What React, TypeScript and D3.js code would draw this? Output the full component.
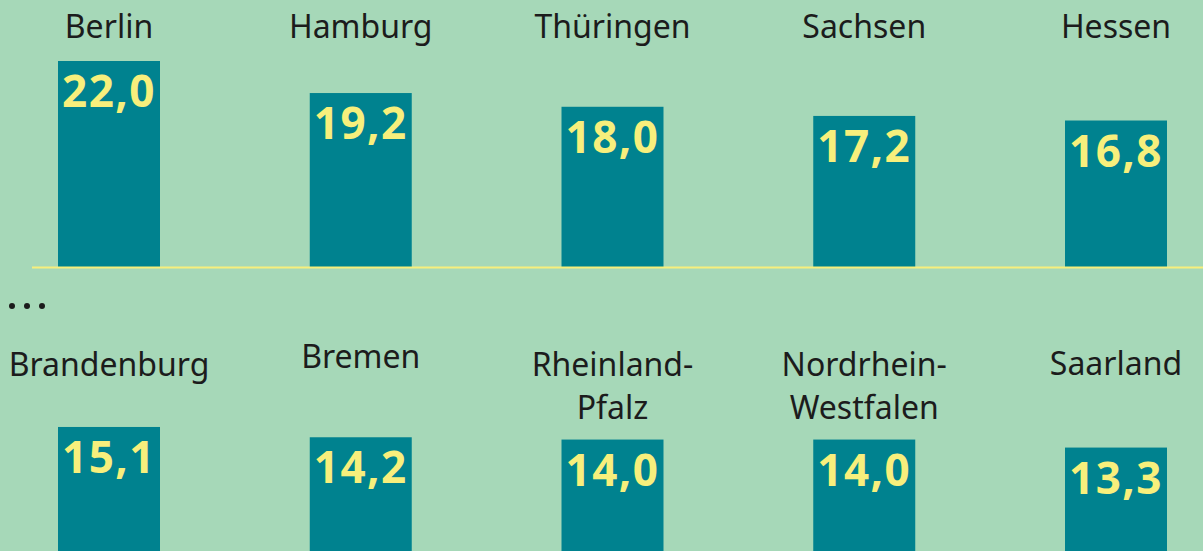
import React from "react";
import * as d3 from "d3";

const topStates = ["Berlin", "Hamburg", "Thüringen", "Sachsen", "Hessen"];
const topValues = [22.0, 19.2, 18.0, 17.2, 16.8];
const bottomStates = ["Brandenburg", "Bremen", "Rheinland-Pfalz", "Nordrhein-Westfalen", "Saarland"];
const bottomValues = [15.1, 14.2, 14.0, 14.0, 13.3];

const W = 1203;
const H = 551;
const BG = "#a6d8b8";
const BAR = "#00828f";
const YEL = "#f7ef7c";
const TXT = "#1c1c1c";
const FONT = "'Noto Sans', 'Open Sans', sans-serif";

const fmt = (v: number) => d3.format(".1f")(v).replace(".", ",");
const splitLabel = (s: string) => {
  const i = s.indexOf("-");
  return i >= 0 ? [s.slice(0, i + 1), s.slice(i + 1)] : [s];
};

export default function App() {
  const barW = 102;
  const x = d3.scalePoint<number>().domain([0, 1, 2, 3, 4]).range([109, 1116]);
  const yTop = d3.scaleLinear().domain([4, 22]).range([267, 61]);
  const yBot = d3.scaleLinear().domain([4, 22]).range([554, 348]);
  // label baseline offsets for bottom row (Bremen sits slightly higher in the original)
  const bottomLabelY = [376, 368, 376, 376, 375];

  return (
    <svg
      width={W}
      height={H}
      style={{ position: "absolute", left: 0, top: 0, display: "block" }}
      fontFamily={FONT}
    >
      <rect x={0} y={0} width={W} height={H} fill={BG} />

      {/* top row */}
      {topStates.map((s, i) => {
        const cx = x(i)!;
        const yt = yTop(topValues[i]);
        return (
          <g key={s}>
            <text x={cx} y={38} textAnchor="middle" fontSize={32} fill={TXT}>
              {s}
            </text>
            <rect x={cx - barW / 2} y={yt} width={barW} height={yTop(4) - yt} fill={BAR} />
            <text
              x={cx}
              y={yt + 46}
              textAnchor="middle"
              fontSize={44}
              fontWeight={700}
              fill={YEL}
              letterSpacing={1.5}
            >
              {fmt(topValues[i])}
            </text>
          </g>
        );
      })}
      <line x1={32} x2={W} y1={267.5} y2={267.5} stroke={YEL} strokeWidth={2} />

      {/* ellipsis */}
      {[0, 1, 2].map((k) => (
        <circle key={k} cx={12 + k * 15} cy={306} r={3} fill={TXT} />
      ))}

      {/* bottom row */}
      {bottomStates.map((s, i) => {
        const cx = x(i)!;
        const yt = yBot(bottomValues[i]);
        const lines = splitLabel(s);
        return (
          <g key={s}>
            {lines.map((l, j) => (
              <text key={j} x={cx} y={bottomLabelY[i] + j * 43} textAnchor="middle" fontSize={32} fill={TXT}>
                {l}
              </text>
            ))}
            <rect x={cx - barW / 2} y={yt} width={barW} height={yBot(4) - yt} fill={BAR} />
            <text
              x={cx}
              y={yt + 46}
              textAnchor="middle"
              fontSize={44}
              fontWeight={700}
              fill={YEL}
              letterSpacing={1.5}
            >
              {fmt(bottomValues[i])}
            </text>
          </g>
        );
      })}
    </svg>
  );
}
